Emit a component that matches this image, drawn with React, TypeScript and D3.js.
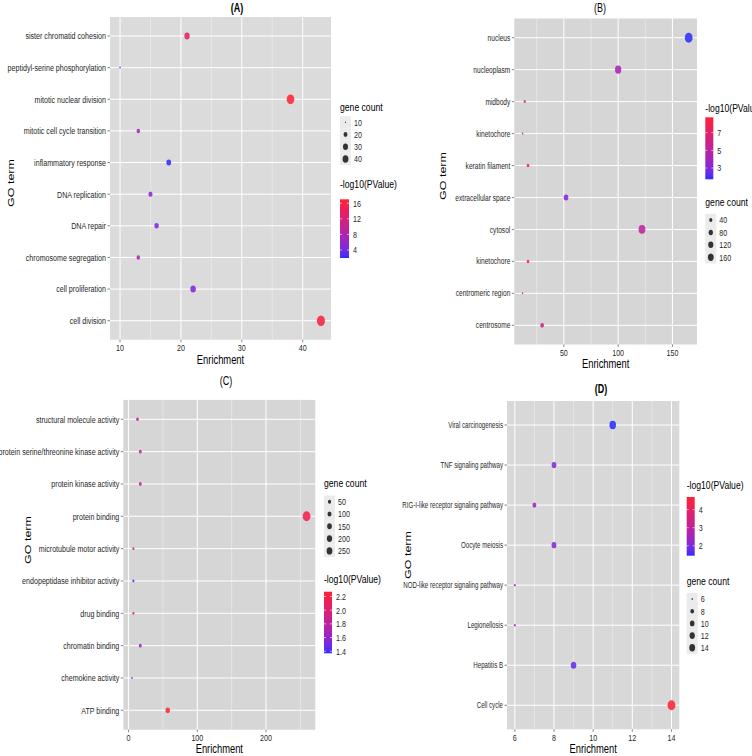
import React from "react";
import * as d3 from "d3";

// ---------- Panel A (biological process) ----------
const termsA = ["sister chromatid cohesion", "peptidyl-serine phosphorylation", "mitotic nuclear division", "mitotic cell cycle transition", "inflammatory response", "DNA replication", "DNA repair", "chromosome segregation", "cell proliferation", "cell division"];
const enrichA = [21, 10, 38, 13, 18, 15, 16, 13, 22, 43];
const countA = [21, 10, 38, 13, 18, 15, 16, 13, 22, 43];
const logpA = [13.2, 2.5, 17.0, 7.2, 1.94, 5.0, 4.7, 8.0, 4.7, 16.2];
const xTicksA = [10, 20, 30, 40];
const sizeTicksA = [10, 20, 30, 40];
const colorTicksA = [4, 8, 12, 16];

// ---------- Panel B (cellular component) ----------
const termsB = ["nucleus", "nucleoplasm", "midbody", "kinetochore", "keratin filament", "extracellular space", "cytosol", "kinetochore", "centromeric region", "centrosome"];
const enrichB = [165, 100, 14, 12, 17, 52, 122, 17, 12, 30];
const countB = [165, 100, 14, 12, 17, 52, 122, 17, 12, 30];
const logpB = [1.72, 4.2, 5.9, 5.8, 7.7, 3.1, 5.2, 8.74, 7.5, 6.1];
const xTicksB = [50, 100, 150];
const sizeTicksB = [40, 80, 120, 160];
const colorTicksB = [3, 5, 7];

// ---------- Panel C (molecular function) ----------
const termsC = ["structural molecule activity", "protein serine/threonine kinase activity", "protein kinase activity", "protein binding", "microtubule motor activity", "endopeptidase inhibitor activity", "drug binding", "chromatin binding", "chemokine activity", "ATP binding"];
const enrichC = [13, 17, 17, 259, 7, 7, 7, 17, 5, 57];
const countC = [13, 17, 17, 259, 7, 7, 7, 17, 5, 57];
const logpC = [1.78, 1.8, 1.82, 2.16, 1.91, 1.42, 2.02, 1.62, 1.37, 2.27];
const xTicksC = [0, 100, 200];
const sizeTicksC = [50, 100, 150, 200, 250];
const colorTicksC = [1.4, 1.6, 1.8, 2.0, 2.2];

// ---------- Panel D (KEGG) ----------
const termsD = ["Viral carcinogenesis", "TNF signaling pathway", "RIG-I-like receptor signaling pathway", "Oocyte meiosis", "NOD-like receptor signaling pathway", "Legionellosis", "Hepatitis B", "Cell cycle"];
const enrichD = [11, 8, 7, 8, 6, 6, 9, 14];
const countD = [11, 8, 7, 8, 6, 6, 9, 14];
const logpD = [1.45, 2.1, 2.36, 2.1, 2.4, 2.4, 1.78, 4.7];
const xTicksD = [6, 8, 10, 12, 14];
const sizeTicksD = [6, 8, 10, 12, 14];
const colorTicksD = [2, 3, 4];

const FONT = "'Liberation Sans', Arial, sans-serif";
const SX = 0.75;
const LOW = "#2e2eff";
const HIGH = "#ff2234";

function T({ x, y, size, anchor = "start", weight = "normal", fill = "#000", dy, rotate = false, sx = SX, children }: any) {
  const tr = rotate
    ? `translate(${x},${y}) rotate(-90) scale(1,${sx})`
    : `translate(${x},${y}) scale(${sx},1)`;
  return (
    <text transform={tr} textAnchor={anchor} fontSize={size} fontWeight={weight} fill={fill} fontFamily={FONT} dy={dy}>
      {children}
    </text>
  );
}

function Panel(p: any) {
  const { id, title, titleX, titleY, titleBold, terms, enrich, count, logp, xTicks, sizeTicks, colorTicks, L } = p;
  const [emin, emax] = d3.extent(enrich) as [number, number];
  const pad = (emax - emin) * 0.05;
  const x = d3.scaleLinear().domain([emin - pad, emax + pad]).range([L.x0, L.x1]);
  const n = terms.length;
  const step = (L.y1 - L.y0) / (n - 1 + 1.2);
  const yOf = (i: number) => L.y0 + 0.6 * step + i * step;

  const cdom = d3.extent(logp) as [number, number];
  const color = d3.scaleLinear<string>().domain(cdom).range([LOW, HIGH]).interpolate(d3.interpolateLab);

  const [cmin, cmax] = d3.extent(count) as [number, number];
  const rOf = (v: number) => L.rMin + (L.rMax - L.rMin) * Math.sqrt(Math.max(0, (v - cmin) / (cmax - cmin)));

  const tstep = xTicks[1] - xTicks[0];
  const minor: number[] = [];
  for (let v = xTicks[0] - tstep / 2; v <= x.domain()[1]; v += tstep) {
    if (v >= x.domain()[0]) minor.push(v);
  }

  const barY = d3.scaleLinear().domain(cdom).range([L.barBottom, L.barTop]);
  const gradId = `grad-${id}`;
  const stops = d3.range(0, 1.0001, 0.1);
  const decimals = colorTicks.some((c: number) => c % 1 !== 0);

  return (
    <g>
      <defs>
        <linearGradient id={gradId} x1="0" y1="1" x2="0" y2="0">
          {stops.map((t) => (
            <stop key={t} offset={`${t * 100}%`} stopColor={d3.interpolateLab(LOW, HIGH)(t)} />
          ))}
        </linearGradient>
      </defs>
      <T x={titleX} y={titleY} size={12} anchor="middle" weight={titleBold ? "bold" : "normal"}>{title}</T>
      <rect x={L.x0} y={L.y0} width={L.x1 - L.x0} height={L.y1 - L.y0} fill={L.bg} />
      {minor.map((v) => (
        <line key={"mi" + v} x1={x(v)} x2={x(v)} y1={L.y0} y2={L.y1} stroke="#f2f2f2" strokeWidth={0.5} />
      ))}
      {xTicks.map((v: number) => (
        <line key={"ma" + v} x1={x(v)} x2={x(v)} y1={L.y0} y2={L.y1} stroke="#ffffff" strokeWidth={1} />
      ))}
      {terms.map((t: string, i: number) => (
        <line key={"h" + i} x1={L.x0} x2={L.x1} y1={yOf(i)} y2={yOf(i)} stroke="#ffffff" strokeWidth={1} />
      ))}
      {terms.map((t: string, i: number) => (
        <g key={"yl" + i}>
          <line x1={L.x0 - 2.5} x2={L.x0} y1={yOf(i)} y2={yOf(i)} stroke="#333" strokeWidth={0.6} />
          <T x={L.x0 - 4} y={yOf(i)} size={L.labelFont} anchor="end" fill="#1f1f1f" dy="0.35em">{t}</T>
        </g>
      ))}
      {xTicks.map((v: number) => (
        <g key={"xt" + v}>
          <line x1={x(v)} x2={x(v)} y1={L.y1} y2={L.y1 + 2.5} stroke="#333" strokeWidth={0.6} />
          <T x={x(v)} y={L.tickY} size={9.5} anchor="middle" fill="#1f1f1f">{String(v)}</T>
        </g>
      ))}
      {terms.map((t: string, i: number) => (
        <ellipse key={"pt" + i} cx={x(enrich[i])} cy={yOf(i)} rx={rOf(count[i]) * 0.78} ry={rOf(count[i])} fill={color(logp[i])} fillOpacity={0.88} />
      ))}
      <T x={(L.x0 + L.x1) / 2} y={L.enrichY} size={13} anchor="middle" sx={0.72}>Enrichment</T>
      <T x={L.goX} y={L.goY} size={12.5} anchor="middle" rotate>GO term</T>

      {/* size legend */}
      <T x={L.sx} y={L.sizeTitleY} size={11.5}>gene count</T>
      {sizeTicks.map((v: number, i: number) => {
        const cy = L.sizeFirstY + i * L.sizeStep;
        const r = rOf(v) * L.legScale;
        return (
          <g key={"sl" + v}>
            <rect x={L.sx} y={cy - L.sizeStep / 2} width={11} height={L.sizeStep} fill="#ebebeb" />
            <ellipse cx={L.sx + 5.5} cy={cy} rx={r * 0.78} ry={r} fill="#333" />
            <T x={L.sx + 14} y={cy} size={9.5} dy="0.35em" fill="#1f1f1f">{String(v)}</T>
          </g>
        );
      })}

      {/* color legend */}
      <T x={L.sx} y={L.colorTitleY} size={11.5}>-log10(PValue)</T>
      <rect x={L.sx} y={L.barTop} width={L.barW} height={L.barBottom - L.barTop} fill={`url(#${gradId})`} />
      {colorTicks.map((v: number) => (
        <g key={"ct" + v}>
          <line x1={L.sx} x2={L.sx + 2} y1={barY(v)} y2={barY(v)} stroke="#fff" strokeWidth={0.6} />
          <line x1={L.sx + L.barW - 2} x2={L.sx + L.barW} y1={barY(v)} y2={barY(v)} stroke="#fff" strokeWidth={0.6} />
          <T x={L.sx + L.barW + 4} y={barY(v)} size={9.5} dy="0.35em" fill="#1f1f1f">{decimals ? v.toFixed(1) : String(v)}</T>
        </g>
      ))}
    </g>
  );
}

const layoutA = { x0: 110, x1: 331, y0: 17, y1: 339.7, bg: "#dbdbdb", labelFont: 9.5, tickY: 350.5, enrichY: 364, goX: 14, goY: 183, sx: 340, sizeTitleY: 111, sizeFirstY: 122.3, sizeStep: 12.2, colorTitleY: 188, barTop: 199.3, barBottom: 258, barW: 9, rMin: 1, rMax: 5.2, legScale: 0.75 };
const layoutB = { x0: 514.3, x1: 697, y0: 18.5, y1: 344.5, bg: "#d6d6d6", labelFont: 8.8, tickY: 355.5, enrichY: 368, goX: 446, goY: 176, sx: 705.3, sizeTitleY: 206, sizeFirstY: 220, sizeStep: 12.4, colorTitleY: 112, barTop: 117.3, barBottom: 179.3, barW: 8, rMin: 1, rMax: 5, legScale: 0.75 };
const layoutC = { x0: 123.3, x1: 315.3, y0: 399.9, y1: 729.7, bg: "#d6d6d6", labelFont: 9.5, tickY: 740.7, enrichY: 753, goX: 31, goY: 540, sx: 324, sizeTitleY: 486.7, sizeFirstY: 501.7, sizeStep: 12.3, colorTitleY: 583.3, barTop: 591.7, barBottom: 653.3, barW: 8, rMin: 1, rMax: 5, legScale: 0.75 };
const layoutD = { x0: 507, x1: 679.3, y0: 401, y1: 729.3, bg: "#d8d8d8", labelFont: 8.2, tickY: 740.7, enrichY: 753, goX: 411, goY: 555, sx: 686.7, sizeTitleY: 585, sizeFirstY: 599, sizeStep: 12.2, colorTitleY: 489.3, barTop: 497, barBottom: 555.7, barW: 8, rMin: 1.2, rMax: 5, legScale: 0.75 };

export default function App() {
  return (
    <svg width={752} height={756} style={{ position: "absolute", left: 0, top: 0, background: "#fff" }}>
      <rect x={0} y={0} width={752} height={756} fill="#fff" />
      <Panel id="A" title="(A)" titleX={237} titleY={12} titleBold terms={termsA} enrich={enrichA} count={countA} logp={logpA} xTicks={xTicksA} sizeTicks={sizeTicksA} colorTicks={colorTicksA} L={layoutA} />
      <Panel id="B" title="(B)" titleX={600} titleY={12} titleBold={false} terms={termsB} enrich={enrichB} count={countB} logp={logpB} xTicks={xTicksB} sizeTicks={sizeTicksB} colorTicks={colorTicksB} L={layoutB} />
      <Panel id="C" title="(C)" titleX={226} titleY={385} titleBold={false} terms={termsC} enrich={enrichC} count={countC} logp={logpC} xTicks={xTicksC} sizeTicks={sizeTicksC} colorTicks={colorTicksC} L={layoutC} />
      <Panel id="D" title="(D)" titleX={601} titleY={393} titleBold terms={termsD} enrich={enrichD} count={countD} logp={logpD} xTicks={xTicksD} sizeTicks={sizeTicksD} colorTicks={colorTicksD} L={layoutD} />
    </svg>
  );
}
